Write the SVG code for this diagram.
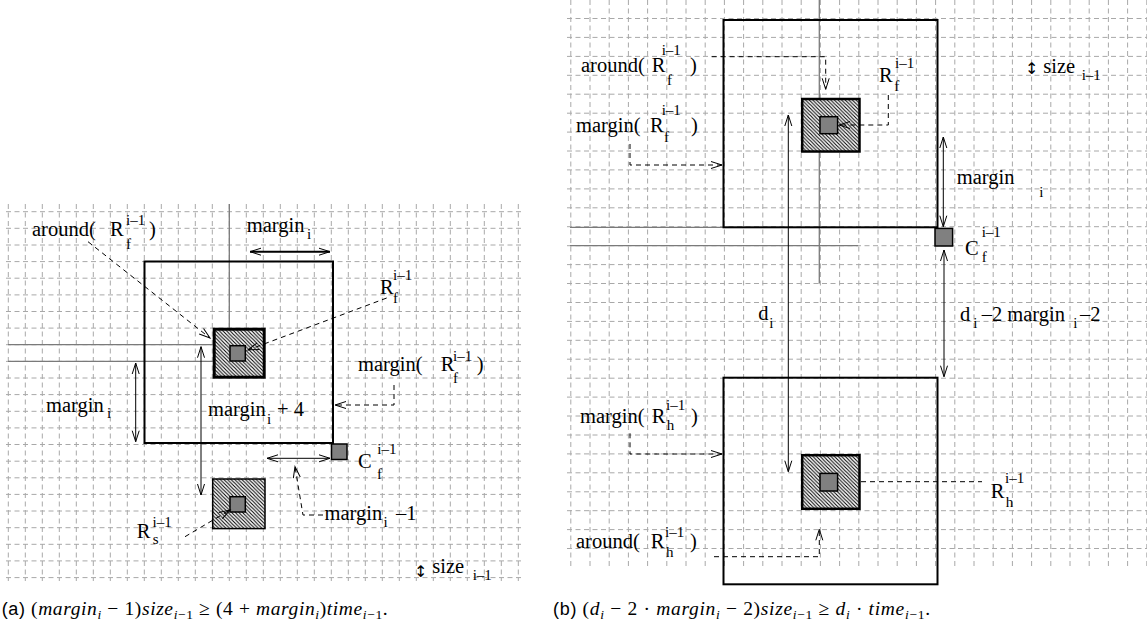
<svg xmlns="http://www.w3.org/2000/svg" width="1147" height="623" viewBox="0 0 1147 623" font-family="Liberation Serif, Times New Roman, serif">
<style>
.grid{fill:none;stroke:#a8a8a8;stroke-width:1;stroke-dasharray:5 3.5}
.ref{fill:none;stroke:#7a7a7a;stroke-width:1.3}
.box{fill:none;stroke:#000;stroke-width:2}
.hatch{fill:url(#hatch);stroke:#000}
.core{fill:#808080;stroke:#000;stroke-width:1.5}
.arr{fill:none;stroke:#000;stroke-width:1;marker-start:url(#ah);marker-end:url(#ah)}
.dash{fill:none;stroke:#000;stroke-width:1;stroke-dasharray:5 4;marker-end:url(#ah)}
.dashn{fill:none;stroke:#000;stroke-width:1;stroke-dasharray:5 4}
text{font-family:"Liberation Serif","Times New Roman",serif;font-size:20.5px;fill:#000}
.s{font-size:15px}
.ud{font-family:"DejaVu Sans",sans-serif;font-size:16px}
.cap{font-size:19.5px}
.it{font-style:italic}
.cs{font-size:13.5px}
.sans{font-family:"Liberation Sans",Arial,sans-serif;font-size:18px}
</style>
<defs>
<pattern id="hatch" patternUnits="userSpaceOnUse" width="3.6" height="3.6">
<rect width="3.6" height="3.6" fill="#fff"/>
<path d="M-1,-1 L4.6,4.6 M-1,2.6 L1,4.6 M2.6,-1 L4.6,1" stroke="#000" stroke-width="1.05"/>
</pattern>
<marker id="ah" markerUnits="userSpaceOnUse" markerWidth="14" markerHeight="10" viewBox="-12 -5 14 10" refX="0" refY="0" orient="auto-start-reverse">
<path d="M-11,-3.5 L0,0 L-11,3.5" fill="none" stroke="#000" stroke-width="1" stroke-dasharray="none"/>
</marker>
</defs>
<rect width="1147" height="623" fill="#fff"/>

<g id="grid-a">
<path class="grid" d="M8.3,204V581M25.3,204V581M42.3,204V581M59.3,204V581M76.3,204V581M93.3,204V581M110.3,204V581M127.3,204V581M144.3,204V581M161.3,204V581M178.3,204V581M195.3,204V581M212.3,204V581M229.3,204V581M246.3,204V581M263.3,204V581M280.3,204V581M297.3,204V581M314.3,204V581M331.3,204V581M348.3,204V581M365.3,204V581M382.3,204V581M399.3,204V581M416.3,204V581M433.3,204V581M450.3,204V581M467.3,204V581M484.3,204V581M501.3,204V581M518.3,204V581"/>
<path class="grid" d="M6,211.7H521M6,228.3H521M6,245H521M6,261.6H521M6,278.2H521M6,294.9H521M6,311.5H521M6,328.1H521M6,344.7H521M6,361.4H521M6,378H521M6,394.6H521M6,411.3H521M6,427.9H521M6,444.5H521M6,461.2H521M6,477.8H521M6,494.4H521M6,511H521M6,527.7H521M6,544.3H521M6,560.9H521M6,577.6H521"/>
</g>
<g id="grid-b">
<path class="grid" d="M570.8,0V567M590,0V567M609.2,0V567M628.4,0V567M647.6,0V567M666.8,0V567M686,0V567M705.2,0V567M724.4,0V567M743.6,0V567M762.8,0V567M782,0V567M801.2,0V567M820.4,0V567M839.6,0V567M858.8,0V567M878,0V567M897.2,0V567M916.4,0V567M935.6,0V567M954.8,0V567M974,0V567M993.2,0V567M1012.4,0V567M1031.6,0V567M1050.8,0V567M1070,0V567M1089.2,0V567M1108.4,0V567M1127.6,0V567M1146.8,0V567"/>
<path class="grid" d="M567,18.5H1147M567,37.4H1147M567,56.4H1147M567,75.3H1147M567,94.2H1147M567,113.2H1147M567,132.1H1147M567,151H1147M567,169.9H1147M567,188.9H1147M567,207.8H1147M567,226.7H1147M567,245.7H1147M567,264.6H1147M567,283.5H1147M567,302.5H1147M567,321.4H1147M567,340.3H1147M567,359.2H1147M567,378.2H1147M567,397.1H1147M567,416H1147M567,435H1147M567,453.9H1147M567,472.8H1147M567,491.8H1147M567,510.7H1147M567,529.6H1147M567,548.5H1147"/>
</g>

<g id="reference-lines">
<path class="ref" d="M8,344.7H212.7M8,361.4H212.7M229.3,204V327.7"/>
<path class="ref" d="M570,227.3H723M570,245.7H858M819.3,0V283.5"/>
</g>

<g id="box-a"><rect class="box" x="144.5" y="261.5" width="188.5" height="181.5"/></g>
<g id="Rf-a">
<rect class="hatch" x="214.2" y="329.2" width="50" height="48" stroke-width="3"/>
<rect class="core" x="230" y="345.7" width="15.3" height="15.3"/>
</g>
<g id="Rs-a">
<rect class="hatch" x="212.7" y="479" width="52.3" height="49.6" stroke-width="1.5"/>
<rect class="core" x="230" y="496.7" width="15.3" height="15.3"/>
</g>
<g id="Cf-a"><rect class="core" x="331.5" y="444" width="15.5" height="15.5"/></g>

<g id="box-top-b"><rect class="box" x="723.5" y="20" width="214" height="207.3"/></g>
<g id="box-bottom-b"><rect class="box" x="723.5" y="377.7" width="214" height="206.6"/></g>
<g id="Rf-b">
<rect class="hatch" x="802.2" y="99" width="57.3" height="52.5" stroke-width="2.5"/>
<rect class="core" x="820" y="116.7" width="17.6" height="17"/>
</g>
<g id="Rh-b">
<rect class="hatch" x="802.2" y="455.2" width="57.3" height="53.6" stroke-width="2.5"/>
<rect class="core" x="820" y="473.4" width="17.6" height="17.6"/>
</g>
<g id="Cf-b"><rect class="core" x="935" y="228.4" width="17.6" height="17.6"/></g>

<g id="connectors">
<path class="dash" d="M88,241.7L210,338"/>
<path class="arr" d="M250,251.7H330" style="stroke-width:2"/>
<path class="dash" d="M386.7,298L248,350"/>
<path class="dash" d="M394,385V405H335"/>
<path class="arr" d="M135.7,363V441.7"/>
<path class="arr" d="M201,346.7V495"/>
<path class="arr" d="M267,458.3H330"/>
<path class="dash" d="M323,515H303L295,466.7"/>
<path class="dash" d="M185,536.7L230,510"/>

<path class="dash" d="M711.7,56.7H825.7V89.3"/>
<path class="dash" d="M630,144V165H722"/>
<path class="dash" d="M888.3,95V125H839"/>
<path class="dash" d="M630,433.3V454H722"/>
<path class="dash" d="M714,556.7H819.3V529.3"/>
<path class="dashn" d="M861,481.7H982"/>
<path class="arr" d="M788.3,115V471.7"/>
<path class="arr" d="M943.3,137V226.7"/>
<path class="arr" d="M944,250V376.7"/>
</g>

<g id="labels-a">
<text><tspan x="32" y="236">around(</tspan><tspan x="110" y="236">R</tspan><tspan class="s" x="126" y="225">i–1</tspan><tspan class="s" x="126" y="249">f</tspan><tspan x="149" y="236">)</tspan></text>
<text><tspan x="246.7" y="231.7">margin</tspan><tspan class="s" x="307" y="239">i</tspan></text>
<text><tspan x="380" y="294">R</tspan><tspan class="s" x="393" y="280">i–1</tspan><tspan class="s" x="393" y="303">f</tspan></text>
<text><tspan x="358" y="371">margin(</tspan><tspan x="440.7" y="371">R</tspan><tspan class="s" x="453" y="361">i–1</tspan><tspan class="s" x="453" y="383">f</tspan><tspan x="476.7" y="371">)</tspan></text>
<text><tspan x="46" y="411.7">margin</tspan><tspan class="s" x="107" y="418">i</tspan></text>
<text><tspan x="208" y="415.7">margin</tspan><tspan class="s" x="267" y="424">i</tspan><tspan x="277" y="415.7">+ 4</tspan></text>
<text><tspan x="136.7" y="538.3">R</tspan><tspan class="s" x="152.5" y="527">i–1</tspan><tspan class="s" x="152.7" y="544">s</tspan></text>
<text><tspan x="358" y="468.3">C</tspan><tspan class="s" x="377.3" y="454">i–1</tspan><tspan class="s" x="377" y="479">f</tspan></text>
<text><tspan x="324.5" y="520">margin</tspan><tspan class="s" x="383.5" y="526.7">i</tspan><tspan x="396" y="520">–1</tspan></text>
<text><tspan class="ud" x="414" y="577">↕&#xFE0E;</tspan><tspan x="432.3" y="572.7">size</tspan><tspan class="s" x="472.7" y="580">i–1</tspan></text>
</g>

<g id="labels-b">
<text><tspan x="581" y="71.7">around(</tspan><tspan x="651.7" y="71.7">R</tspan><tspan class="s" x="661.7" y="55">i–1</tspan><tspan class="s" x="667" y="85">f</tspan><tspan x="690" y="71.7">)</tspan></text>
<text><tspan x="576" y="132">margin(</tspan><tspan x="650" y="132">R</tspan><tspan class="s" x="661.7" y="115">i–1</tspan><tspan class="s" x="664" y="141.7">f</tspan><tspan x="691" y="132">)</tspan></text>
<text><tspan x="879" y="81.7">R</tspan><tspan class="s" x="895" y="68.3">i–1</tspan><tspan class="s" x="894.3" y="90.7">f</tspan></text>
<text><tspan class="ud" x="1025" y="74">↕&#xFE0E;</tspan><tspan x="1043.3" y="72.7">size</tspan><tspan class="s" x="1081.7" y="80">i–1</tspan></text>
<text><tspan x="956.7" y="184.3">margin</tspan><tspan class="s" x="1039.3" y="196.7">i</tspan></text>
<text><tspan x="965" y="255">C</tspan><tspan class="s" x="981.7" y="237.3">i–1</tspan><tspan class="s" x="981.7" y="262.3">f</tspan></text>
<text><tspan x="960" y="320.7">d</tspan><tspan class="s" x="973.3" y="327.7">i</tspan><tspan x="981.7" y="320.7">–2 margin</tspan><tspan class="s" x="1073.3" y="327.7">i</tspan><tspan x="1080" y="320.7">–2</tspan></text>
<text><tspan x="758.3" y="320">d</tspan><tspan class="s" x="769.3" y="328.3">i</tspan></text>
<text><tspan x="580" y="423.3">margin(</tspan><tspan x="651.7" y="423.3">R</tspan><tspan class="s" x="666" y="410">i–1</tspan><tspan class="s" x="666.7" y="430">h</tspan><tspan x="691" y="423.3">)</tspan></text>
<text><tspan x="576" y="548.3">around(</tspan><tspan x="650.7" y="548.3">R</tspan><tspan class="s" x="665" y="536.7">i–1</tspan><tspan class="s" x="666" y="556.7">h</tspan><tspan x="690" y="548.3">)</tspan></text>
<text><tspan x="990.7" y="498.3">R</tspan><tspan class="s" x="1005" y="482.7">i–1</tspan><tspan class="s" x="1005.7" y="506.7">h</tspan></text>
</g>

<g id="captions">
<text class="cap" x="1.7" y="614.5" textLength="386" lengthAdjust="spacing"><tspan class="sans">(a)</tspan> (<tspan class="it">margin</tspan><tspan class="it cs" dy="4">i</tspan><tspan dy="-4"> − 1)</tspan><tspan class="it">size</tspan><tspan class="cs" dy="4"><tspan class="it">i</tspan>−1</tspan><tspan dy="-4"> ≥ (4 + </tspan><tspan class="it">margin</tspan><tspan class="it cs" dy="4">i</tspan><tspan dy="-4">)</tspan><tspan class="it">time</tspan><tspan class="cs" dy="4"><tspan class="it">i</tspan>−1</tspan><tspan dy="-4">.</tspan></text>
<text class="cap" x="553" y="614.5" textLength="377" lengthAdjust="spacing"><tspan class="sans">(b)</tspan> (<tspan class="it">d</tspan><tspan class="it cs" dy="4">i</tspan><tspan dy="-4"> − 2 · </tspan><tspan class="it">margin</tspan><tspan class="it cs" dy="4">i</tspan><tspan dy="-4"> − 2)</tspan><tspan class="it">size</tspan><tspan class="cs" dy="4"><tspan class="it">i</tspan>−1</tspan><tspan dy="-4"> ≥ </tspan><tspan class="it">d</tspan><tspan class="it cs" dy="4">i</tspan><tspan dy="-4"> · </tspan><tspan class="it">time</tspan><tspan class="cs" dy="4"><tspan class="it">i</tspan>−1</tspan><tspan dy="-4">.</tspan></text>
</g>
</svg>
